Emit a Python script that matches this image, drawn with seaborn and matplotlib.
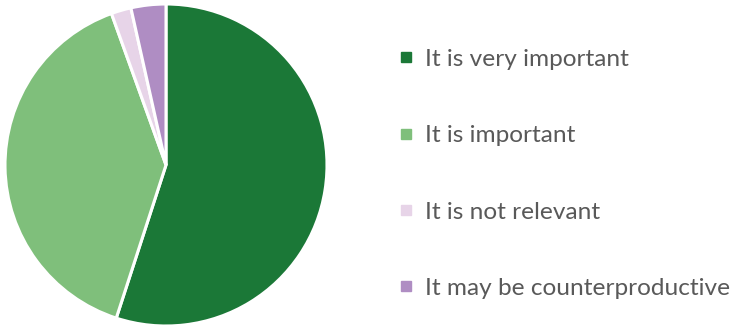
import matplotlib
matplotlib.use("Agg")
import matplotlib.pyplot as plt
from matplotlib.lines import Line2D
import seaborn as sns

# Survey answers and their shares (%)
categories = ["It is very important", "It is important",
              "It is not relevant", "It may be counterproductive"]
shares = [55.0, 39.5, 2.0, 3.5]
colors = ["#1b7837", "#7fbf7b", "#e7d4e8", "#af8dc3"]

sns.set_theme(style="white")
plt.rcParams["font.family"] = ["Lato", "DejaVu Sans"]

W, H = 731, 326
fig = plt.figure(figsize=(W / 100, H / 100), dpi=100)

cx, cy, r = 166, 161, 161
ax = fig.add_axes([(cx - r) / W, (cy - r) / H, 2 * r / W, 2 * r / H])
ax.pie(shares, colors=colors, startangle=90, counterclock=False,
       radius=1.0, wedgeprops=dict(edgecolor="white", linewidth=2.2))
ax.set_xlim(-1.0, 1.0)
ax.set_ylim(-1.0, 1.0)
ax.set_aspect("equal")
ax.axis("off")

handles = [Line2D([0], [0], marker="s", linestyle="none", markersize=7.5,
                  markerfacecolor=c, markeredgecolor=c) for c in colors]
leg = fig.legend(handles, categories, loc="upper left",
                 bbox_to_anchor=(386 / W, 1 - 39 / H), frameon=False,
                 fontsize=17.6, labelcolor="#595959", handlelength=0.8,
                 handletextpad=0.4, labelspacing=2.26, borderaxespad=0)

fig.savefig("out.png", dpi=100)
